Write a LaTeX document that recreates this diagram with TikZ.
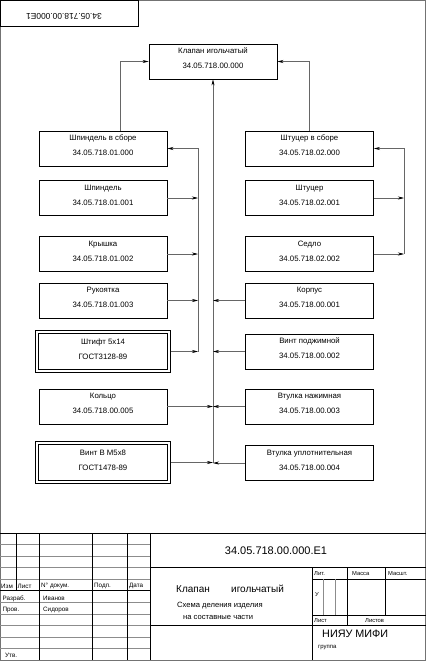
\documentclass[tikz,border=0pt]{standalone}
\usepackage{fontspec}
\setmainfont{Liberation Sans}
\usetikzlibrary{arrows.meta}
\begin{document}
\begin{tikzpicture}[x=1pt,y=-1pt,
  box/.style={draw=black,line width=0.9pt,minimum width=128pt,minimum height=35pt,inner sep=0pt,align=center,text depth=6pt,font=\fontsize{7.8}{15}\selectfont},
  dbox/.style={box,double=white,double distance=2.4pt,line width=0.7pt,minimum width=131.5pt,minimum height=39.5pt,outer sep=1.9pt,text depth=4pt},
  con/.style={draw=black!60,line width=0.6pt},
  arr/.style={con,-{Stealth[length=6pt,width=3pt,color=black]}},
  thk/.style={draw=black,line width=0.9pt},
  thn/.style={draw=black!45,line width=0.6pt},
  tb/.style={inner sep=0pt,font=\fontsize{6.3}{7}\selectfont,anchor=west},
  tr/.style={inner sep=0pt,font=\fontsize{5.8}{7}\selectfont,anchor=west}
]
\useasboundingbox (0,0) rectangle (427,661);
% frame
\draw[draw=black!55,line width=0.8pt] (0.5,0.8) rectangle (425.6,660.5);
\node[draw=black,line width=0.9pt,minimum width=138pt,minimum height=26pt,inner sep=0pt] (stampbox) at (69,13) {};
\node[rotate=180,inner sep=0pt,font=\fontsize{8.4}{10}\selectfont] (stamp) at (64,16) {34.05.718.00.000E1};

% boxes
\node[box] (kl) at (213,61.5) {Клапан игольчатый\\34.05.718.00.000};
\node[box] (sb1) at (103,148.5) {Шпиндель в сборе\\34.05.718.01.000};
\node[box] (sp) at (103,198) {Шпиндель\\34.05.718.01.001};
\node[box] (kr) at (103,254) {Крышка\\34.05.718.01.002};
\node[box] (ru) at (103,300.5) {Рукоятка\\34.05.718.01.003};
\node[dbox] (sh) at (103,351.5) {Штифт 5x14\\ГОСТ3128-89};
\node[box] (ko) at (103,406.5) {Кольцо\\34.05.718.00.005};
\node[dbox] (vi) at (103,462.5) {Винт В М5х8\\ГОСТ1478-89};

\node[box] (sb2) at (309.5,148.5) {Штуцер в сборе\\34.05.718.02.000};
\node[box] (st) at (309.5,198) {Штуцер\\34.05.718.02.001};
\node[box] (se) at (309.5,254) {Седло\\34.05.718.02.002};
\node[box] (kp) at (309.5,300.5) {Корпус\\34.05.718.00.001};
\node[box] (vp) at (309.5,351.5) {Винт поджимной\\34.05.718.00.002};
\node[box] (vn) at (309.5,406.5) {Втулка нажимная\\34.05.718.00.003};
\node[box] (vu) at (309.5,463) {Втулка уплотнительная\\34.05.718.00.004};

% bus coordinates
\coordinate (tl) at (120,0);
\coordinate (tr) at (309,0);
\coordinate (lb) at (198,0);
\coordinate (rb) at (404,0);

% connectors to top
\draw[arr] (sb1.north -| tl) |- (kl.west);
\draw[arr] (sb2.north -| tr) |- (kl.east);
\draw[arr] (vu.west -| kl.south) -- (kl.south);

% left subassembly bus
\draw[arr] (sp.east) -- (sp.east -| lb);
\draw[arr] (kr.east) -- (kr.east -| lb);
\draw[arr] (ru.east) -- (ru.east -| lb);
\draw[arr] (sh.east) -- (sh.east -| lb);
\draw[arr] (sh.east -| lb) |- (sb1.east);

% right subassembly bus
\draw[arr] (st.east) -- (st.east -| rb);
\draw[arr] (se.east) -- (se.east -| rb);
\draw[arr] (se.east -| rb) |- (sb2.east);

% to central bus
\draw[arr] (ko.east) -- (ko.east -| kl.south);
\draw[arr] (vi.east) -- (vi.east -| kl.south);
\draw[arr] (kp.west) -- (kp.west -| kl.south);
\draw[arr] (vp.west) -- (vp.west -| kl.south);
\draw[arr] (vn.west) -- (vn.west -| kl.south);
\draw[arr] (vu.west) -- (vu.west -| kl.south);

% title block - left part
\draw[thk] (0,533) -- (426,533);
\foreach \k in {1,2,3,4,6,7,8,9,10} \draw[thn] (0,{533+11.545*\k}) -- (150,{533+11.545*\k});
\draw[thk] (0,590.7) -- (150,590.7);
\draw[thk] (16,533) -- (16,590.7);
\foreach \x in {39,92,127,150} \draw[thk] (\x,533) -- (\x,660);

\node[tb] (t1) at (1,586) {Изм};
\node[tb] (t2) at (17.5,586) {Лист};
\node[tb] (t3) at (41,586) {N° докум.};
\node[tb] (t4) at (94,586) {Подп.};
\node[tb] (t5) at (129,586) {Дата};
\node[tb] (t6) at (2.5,598.5) {Разраб.};
\node[tb] (t7) at (43,598.5) {Иванов};
\node[tb] (t8) at (2.5,610) {Пров.};
\node[tb] (t9) at (43,610) {Сидоров};
\node[tb] (t10) at (5,655.5) {Утв.};

% title block - right part
\draw[thk] (150,567.6) -- (426,567.6);
\draw[thk] (150,625.4) -- (426,625.4);
\draw[thk] (312,567.6) -- (312,660);
\draw[thk] (312,579.2) -- (426,579.2);
\draw[thk] (312,615) -- (426,615);
\draw[thk] (347,567.6) -- (347,625.4);
\draw[thk] (385.5,567.6) -- (385.5,615);
\draw[thn] (323.5,579.2) -- (323.5,615);
\draw[thn] (335,579.2) -- (335,615);

\node[inner sep=0pt,font=\fontsize{11}{13}\selectfont] (des) at (276,551) {34.05.718.00.000.E1};
\node[inner sep=0pt,anchor=west,font=\fontsize{10}{12}\selectfont] (n1) at (176,589) {Клапан};
\node[inner sep=0pt,anchor=west,font=\fontsize{10}{12}\selectfont] (n2) at (231,589) {игольчатый};
\node[inner sep=0pt,anchor=west,font=\fontsize{7.6}{9}\selectfont] (n3) at (177,606) {Схема деления изделия};
\node[inner sep=0pt,anchor=west,font=\fontsize{7.6}{9}\selectfont] (n4) at (183,617) {на составные части};
\node[tr] (r1) at (314,573.5) {Лит.};
\node[tr] (r2) at (352,573.5) {Масса};
\node[tr] (r3) at (388,573.5) {Масшт.};
\node[tr] (r4) at (315,595) {У};
\node[tr] (r5) at (314,620.5) {Лист};
\node[tr] (r6) at (365,620.5) {Листов};
\node[inner sep=0pt,anchor=west,font=\fontsize{10.8}{12}\selectfont] (r7) at (322,634) {НИЯУ МИФИ};
\node[inner sep=0pt,anchor=west,font=\fontsize{6}{7}\selectfont] (r8) at (318,648) {группа};
\end{tikzpicture}
\end{document}
